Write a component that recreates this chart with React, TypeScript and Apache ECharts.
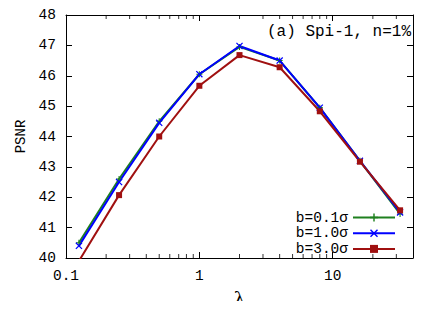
import React, { useEffect, useRef } from "react";
import * as echarts from "echarts";

const lambdas = [0.125, 0.25, 0.5, 1, 2, 4, 8, 16, 32];
const psnrB01 = [40.5, 42.6, 44.5, 46.05, 46.95, 46.5, 44.95, 43.2, 41.45];
const psnrB10 = [40.4, 42.5, 44.45, 46.05, 46.98, 46.5, 44.95, 43.2, 41.5];
const psnrB30 = [39.9, 42.07, 44.0, 45.67, 46.68, 46.28, 44.83, 43.17, 41.57];
const seriesNames = ["b=0.1σ", "b=1.0σ", "b=3.0σ"];
const seriesColors = ["#1f801f", "#0000ff", "#a01010"];
const yTicks = [40, 41, 42, 43, 44, 45, 46, 47, 48];
const xMinorTicks = [0.2, 0.3, 0.4, 0.5, 0.6, 0.7, 0.8, 0.9, 2, 3, 4, 5, 6, 7, 8, 9, 20, 30];

const FONT = "Liberation Mono";

const plusPath = "path://M-1,-0.18H1V0.18H-1Z M-0.18,-1H0.18V1H-0.18Z";
const crossPath =
  "path://M-1,-0.75L-0.75,-1L1,0.75L0.75,1Z M0.75,-1L1,-0.75L-0.75,1L-1,0.75Z";

export default function App() {
  const ref = useRef<HTMLDivElement>(null);
  useEffect(() => {
    const chart = echarts.init(ref.current!, null, { renderer: "svg" });
    const pairs = (ys: number[]) => lambdas.map((x, i) => [x, ys[i]]);
    const yMin = yTicks[0];
    const yMax = yTicks[yTicks.length - 1];
    const xBase = {
      type: "log",
      logBase: 10,
      min: 0.1,
      max: 40,
      axisLine: { show: true, onZero: false, lineStyle: { color: "#000", width: 1 } },
      axisTick: { show: true, inside: true, length: 6, lineStyle: { color: "#000" } },
      splitLine: { show: false },
    };
    const yBase = {
      type: "value",
      min: yMin,
      max: yMax,
      interval: 1,
      axisLine: { show: true, onZero: false, lineStyle: { color: "#000", width: 1 } },
      axisTick: { show: true, inside: true, length: 6, lineStyle: { color: "#000" } },
      splitLine: { show: false },
    };
    const minorTickSeries = (yv: number, off: number) => ({
      type: "scatter",
      silent: true,
      clip: false,
      z: 10,
      data: xMinorTicks.map((v) => [v, yv]),
      symbol: "rect",
      symbolSize: [1, 4],
      symbolOffset: [0, off],
      itemStyle: { color: "#000" },
    });
    chart.setOption({
      animation: false,
      backgroundColor: "#fff",
      grid: {
        left: 66,
        right: 28,
        top: 15,
        bottom: 51,
        containLabel: false,
        outerBoundsMode: "none",
      },
      xAxis: [
        {
          ...xBase,
          position: "bottom",
          name: "λ",
          nameLocation: "middle",
          nameGap: 31,
          nameTextStyle: { fontFamily: "DejaVu Serif", fontSize: 18, color: "#000" },
          axisLabel: {
            fontFamily: FONT,
            fontSize: 14.5,
            color: "#000",
            margin: 10,
            showMaxLabel: false,
          },
        },
        { ...xBase, position: "top", axisLabel: { show: false } },
      ],
      yAxis: [
        {
          ...yBase,
          position: "left",
          name: "PSNR",
          nameLocation: "middle",
          nameRotate: 90,
          nameGap: 27,
          nameTextStyle: { fontFamily: FONT, fontSize: 14, color: "#000" },
          axisLabel: { fontFamily: FONT, fontSize: 14.5, color: "#000", margin: 10 },
        },
        { ...yBase, position: "right", axisLabel: { show: false } },
      ],
      legend: seriesNames.map((n, i) => ({
        orient: "vertical",
        right: 45,
        top: 210 + i * 15.7,
        align: "right",
        itemWidth: 42,
        itemHeight: 10,
        padding: 0,
        textStyle: { fontFamily: FONT, fontSize: 14.5, color: "#000", lineHeight: 15 },
        data: [n],
      })),
      graphic: [
        {
          type: "text",
          right: 30,
          top: 24,
          style: { text: "(a) Spi-1, n=1%", fontFamily: FONT, fontSize: 16, fill: "#000" },
        },
      ],
      series: [
        minorTickSeries(yMin, -2),
        minorTickSeries(yMax, 2),
        {
          name: seriesNames[0],
          type: "line",
          data: pairs(psnrB01),
          color: seriesColors[0],
          lineStyle: { width: 2 },
          symbol: plusPath,
          symbolSize: 6,
          clip: true,
        },
        {
          name: seriesNames[1],
          type: "line",
          data: pairs(psnrB10),
          color: seriesColors[1],
          lineStyle: { width: 2 },
          symbol: crossPath,
          symbolSize: 7,
          clip: true,
        },
        {
          name: seriesNames[2],
          type: "line",
          data: pairs(psnrB30),
          color: seriesColors[2],
          lineStyle: { width: 2 },
          symbol: "rect",
          symbolSize: 6,
          clip: true,
        },
      ],
    });
    return () => chart.dispose();
  }, []);
  return <div ref={ref} style={{ width: 441, height: 309, margin: -8 }} />;
}
